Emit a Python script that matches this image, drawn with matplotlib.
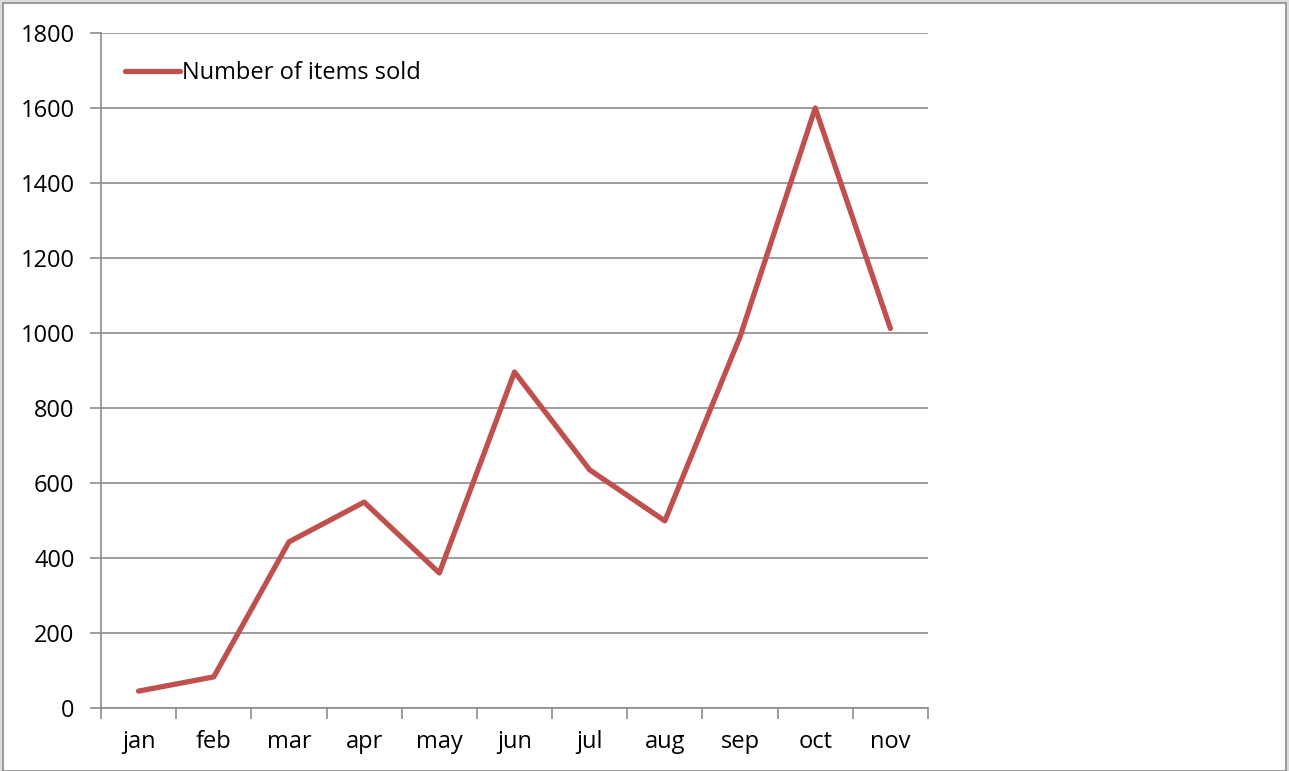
import matplotlib.pyplot as plt
import numpy as np
from matplotlib.patches import Rectangle

months = ['jan', 'feb', 'mar', 'apr', 'may', 'jun', 'jul', 'aug', 'sep', 'oct', 'nov']
items_sold = [45, 83, 443, 549, 360, 896, 635, 499, 990, 1600, 1012]

plt.rcParams['font.family'] = ['Open Sans', 'DejaVu Sans']

W, H = 1289, 771
fig = plt.figure(figsize=(W / 100, H / 100), dpi=100, facecolor='#dcdcdc')

# white chart area with grey frame, kept behind the axes
fig.patches.append(Rectangle((3 / W, 0), (1286 - 3) / W, (H - 3) / H,
                             transform=fig.transFigure, facecolor='white',
                             edgecolor='#8c8c8c', linewidth=1.2, zorder=-10))

ax = fig.add_axes([101 / W, 1 - 708 / H, (928 - 101) / W, (708 - 33) / H])
ax.set_facecolor('none')

x = np.arange(len(months))
ax.plot(x, items_sold, color='#C0504D', linewidth=3.8, solid_capstyle='round',
        solid_joinstyle='round', label='Number of items sold', zorder=3)

ax.set_xlim(-0.5, len(months) - 0.5)
ax.set_ylim(0, 1800)
ax.set_yticks(np.arange(0, 1801, 200))
ax.grid(axis='y', color='#8c8c8c', linewidth=1.2)
ax.set_axisbelow(True)

# category boundary ticks, labels centred between them
ax.set_xticks(np.arange(-0.5, len(months), 1.0))
ax.set_xticklabels([])
ax.set_xticks(x, minor=True)
ax.set_xticklabels(months, minor=True)
ax.tick_params(axis='x', which='major', length=8, width=1.2, color='#8c8c8c', direction='out')
ax.tick_params(axis='x', which='minor', length=0, labelsize=17, pad=16)
ax.tick_params(axis='y', length=8, width=1.2, color='#8c8c8c', labelsize=17, pad=11)

for s in ['top', 'right']:
    ax.spines[s].set_visible(False)
for s in ['left', 'bottom']:
    ax.spines[s].set_color('#8c8c8c')
    ax.spines[s].set_linewidth(1.2)

ax.legend(loc='upper left', bbox_to_anchor=(0.018, 0.972), frameon=False, fontsize=17,
          handlelength=2.3, handletextpad=0.1, borderaxespad=0)

fig.savefig('out.png', dpi=100, facecolor=fig.get_facecolor())
